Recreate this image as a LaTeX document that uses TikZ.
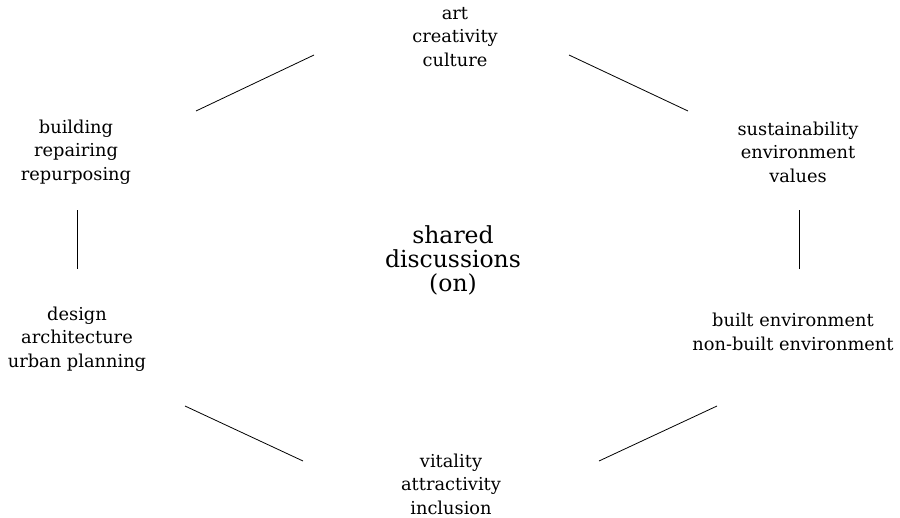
\documentclass[tikz,border=0pt]{standalone}
\usepackage{fontspec}
\setmainfont{DejaVu Serif}
\usetikzlibrary{positioning}

\begin{document}
\begin{tikzpicture}[x=1pt, y=-1pt,
  topic/.style = {align=center, font=\fontsize{17.8}{23.5}\selectfont, inner sep=0pt},
  hub/.style = {align=center, font=\fontsize{23.5}{24}\selectfont, inner sep=0pt},
  link/.style = {line width=0.8pt}]
\useasboundingbox (0,0) rectangle (900,517);

\node[hub] (hub) at (453,260) {shared\\discussions\\(on)};

\node[topic] (art) at (455,37) {art\\creativity\\culture};
\node[topic] (build) at (76,152) {building\\repairing\\repurposing};
\node[topic] (design) at (77,339) {design\\architecture\\urban planning};
\node[topic] (vital) at (451,484) {vitality\\attractivity\\inclusion};
\node[topic] (env) at (793,332) {built environment\\non-built environment};
\node[topic] (sust) at (798,152) {sustainability\\environment\\values};

% segments of the ring
\coordinate (a1) at (314,55);  \coordinate (a2) at (196,111);
\coordinate (b1) at (77,210);  \coordinate (b2) at (77,269);
\coordinate (c1) at (185,406); \coordinate (c2) at (303,461);
\coordinate (d1) at (599,461); \coordinate (d2) at (717,406);
\coordinate (e1) at (799,269); \coordinate (e2) at (799,210);
\coordinate (f1) at (688,111); \coordinate (f2) at (569,55);

\draw[link] (a1) -- (a2);
\draw[link] (b1) -- (b2);
\draw[link] (c1) -- (c2);
\draw[link] (d1) -- (d2);
\draw[link] (e1) -- (e2);
\draw[link] (f1) -- (f2);

\end{tikzpicture}
\end{document}
